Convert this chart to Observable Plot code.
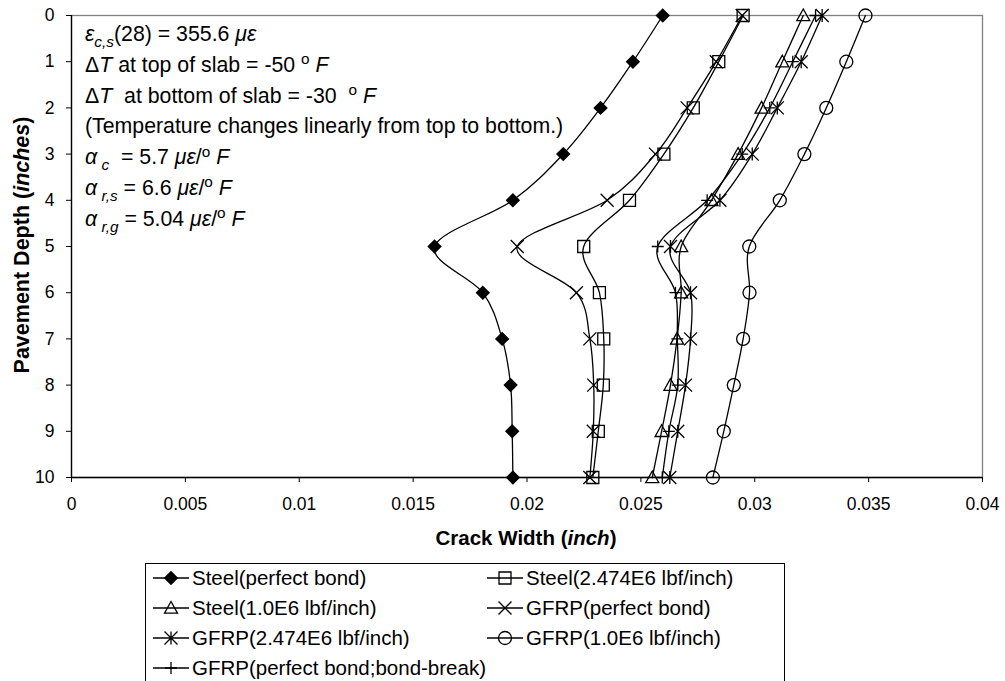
<!DOCTYPE html>
<html>
<head>
<meta charset="utf-8">
<script src="https://cdn.jsdelivr.net/npm/d3@7"></script>
<script src="https://cdn.jsdelivr.net/npm/@observablehq/plot@0.6"></script>
<style>
  body { margin: 0; background: #fff; }
  #wrap { position: relative; width: 1005px; height: 681px; overflow: hidden; font-family: "Liberation Sans", Arial, sans-serif; color: #000; }
  #chart { position: absolute; left: 0; top: 0; }
  #note { position: absolute; left: 85px; top: 19px; font-size: 21.3px; white-space: nowrap; }
  #note div { height: 30.8px; line-height: 30.8px; }
  .sb { font-size: 0.72em; position: relative; top: 0.38em; line-height: 0; }
  .sp { font-size: 0.72em; position: relative; top: -0.5em; line-height: 0; }
  .g { font-style: italic; }
  #xtitle { position: absolute; left: 526px; top: 538px; transform: translate(-50%, -50%); font-weight: bold; font-size: 20.5px; white-space: nowrap; }
  #ytitle { position: absolute; left: 22px; top: 245px; transform: translate(-50%, -50%) rotate(-90deg); font-weight: bold; font-size: 21.5px; white-space: nowrap; }
  #legend { position: absolute; left: 145px; top: 563px; width: 640px; height: 122px; border: 1px solid #000; box-sizing: border-box; }
  .entry { position: absolute; height: 30px; display: flex; align-items: center; font-size: 20.5px; white-space: nowrap; }
  .entry svg { margin-right: 3px; }
</style>
</head>
<body>
<div id="wrap">
  <div id="chart"></div>
  <div id="note">
    <div><span class="g">ε</span><span class="sb g">c,s</span>(28) = 355.6 <span class="g">με</span></div>
    <div>Δ<span class="g">T</span> at top of slab = -50 <span class="sp">o</span> <span class="g">F</span></div>
    <div>Δ<span class="g">T</span>&nbsp; at bottom of slab = -30&nbsp; <span class="sp">o</span> <span class="g">F</span></div>
    <div>(Temperature changes linearly from top to bottom.)</div>
    <div><span class="g">α</span><span class="sb g"> c</span>&nbsp; = 5.7 <span class="g">με</span>/<span class="sp">o</span> <span class="g">F</span></div>
    <div><span class="g">α</span><span class="sb g"> r,s</span> = 6.6 <span class="g">με</span>/<span class="sp">o</span> <span class="g">F</span></div>
    <div><span class="g">α</span><span class="sb g"> r,g</span> = 5.04 <span class="g">με</span>/<span class="sp">o</span> <span class="g">F</span></div>
  </div>
  <div id="xtitle">Crack Width (<i>inch</i>)</div>
  <div id="ytitle">Pavement Depth (<i>inches</i>)</div>
  <div id="legend"></div>
</div>
<script>
// Depth below the slab surface (inches)
const depth = [0, 1, 2, 3, 4, 5, 6, 7, 8, 9, 10];

// Crack width (inch) at each depth
const steelPerfectBond = [0.02596, 0.02465, 0.02323, 0.02159, 0.01938, 0.01594, 0.01806, 0.01891, 0.01928, 0.01935, 0.01938];
const steel2474E6      = [0.02949, 0.02842, 0.02730, 0.02601, 0.02450, 0.02249, 0.02318, 0.02337, 0.02335, 0.02313, 0.02289];
const steel1E6         = [0.03213, 0.03121, 0.03030, 0.02927, 0.02810, 0.02677, 0.02677, 0.02659, 0.02630, 0.02591, 0.02550];
const gfrpPerfectBond  = [0.02945, 0.02831, 0.02703, 0.02564, 0.02352, 0.01957, 0.02217, 0.02276, 0.02293, 0.02291, 0.02276];
const gfrp2474E6       = [0.03296, 0.03204, 0.03099, 0.02989, 0.02847, 0.02630, 0.02718, 0.02718, 0.02696, 0.02662, 0.02627];
const gfrp1E6          = [0.03486, 0.03402, 0.03314, 0.03218, 0.03110, 0.02976, 0.02977, 0.02949, 0.02908, 0.02864, 0.02816];
const gfrpBondBreak    = [0.03267, 0.03167, 0.03066, 0.02945, 0.02791, 0.02574, 0.02652, 0.02660, 0.02662, 0.02623, 0.02594];

const seriesNames = [
  "Steel(perfect bond)",
  "Steel(2.474E6 lbf/inch)",
  "Steel(1.0E6 lbf/inch)",
  "GFRP(perfect bond)",
  "GFRP(2.474E6 lbf/inch)",
  "GFRP(1.0E6 lbf/inch)",
  "GFRP(perfect bond;bond-break)"
];
const seriesValues = [steelPerfectBond, steel2474E6, steel1E6, gfrpPerfectBond, gfrp2474E6, gfrp1E6, gfrpBondBreak];

const xTicks = [0, 0.005, 0.01, 0.015, 0.02, 0.025, 0.03, 0.035, 0.04];
const yTicks = [0, 1, 2, 3, 4, 5, 6, 7, 8, 9, 10];

// Marker shapes (Plot passes size = r²π)
const shape = f => ({draw(ctx, size) { f(ctx, Math.sqrt(size / Math.PI)); }});
const symDiamond  = shape((c, r) => { c.moveTo(0, -r); c.lineTo(r, 0); c.lineTo(0, r); c.lineTo(-r, 0); c.closePath(); });
const symSquare   = shape((c, r) => { c.moveTo(-r, -r); c.lineTo(r, -r); c.lineTo(r, r); c.lineTo(-r, r); c.closePath(); });
const symTriangle = shape((c, r) => { c.moveTo(0, -r); c.lineTo(r, r * 0.8); c.lineTo(-r, r * 0.8); c.closePath(); });
const symTimes    = shape((c, r) => { c.moveTo(-r, -r); c.lineTo(r, r); c.moveTo(r, -r); c.lineTo(-r, r); });
const symStar     = shape((c, r) => { c.moveTo(-r, -r); c.lineTo(r, r); c.moveTo(r, -r); c.lineTo(-r, r); c.moveTo(0, -r); c.lineTo(0, r); });
const symPlus     = shape((c, r) => { c.moveTo(-r, 0); c.lineTo(r, 0); c.moveTo(0, -r); c.lineTo(0, r); });
const symCircle   = shape((c, r) => { c.moveTo(r, 0); c.arc(0, 0, r, 0, 2 * Math.PI); c.closePath(); });

const markerStyle = [
  {symbol: symDiamond,  r: 6.3, fill: "#000"},
  {symbol: symSquare,   r: 6,   fill: "none"},
  {symbol: symTriangle, r: 6.5, fill: "none"},
  {symbol: symTimes,    r: 6.5, fill: "none"},
  {symbol: symStar,     r: 6.5, fill: "none"},
  {symbol: symCircle,   r: 6.5, fill: "none"},
  {symbol: symPlus,     r: 6,   fill: "none"}
];

const rows = seriesNames.flatMap((name, s) =>
  depth.map((d, i) => ({name, depth: d, width: seriesValues[s][i]})));

const fmt = d => String(+d.toFixed(3));

const chart = Plot.plot({
  width: 1005,
  height: 550,
  marginTop: 15,
  marginLeft: 71,
  marginRight: 23,
  marginBottom: 73,
  style: {fontFamily: "'Liberation Sans', Arial, sans-serif", fontSize: "17.5px", color: "#000", background: "transparent"},
  x: {domain: [0, 0.04]},
  y: {domain: [0, 10], reverse: true},
  marks: [
    Plot.frame({stroke: "#808080", strokeWidth: 1.3}),
    Plot.ruleX([0], {stroke: "#000", strokeWidth: 1.3}),
    Plot.ruleY([10], {stroke: "#000", strokeWidth: 1.3}),
    Plot.axisX({ticks: xTicks, tickFormat: fmt, tickSize: 5, tickPadding: 15, label: null}),
    Plot.axisY({ticks: yTicks, tickSize: 5, tickPadding: 12, label: null}),
    ...seriesNames.map(name => Plot.line(rows.filter(d => d.name === name), {
      x: "width", y: "depth", curve: "cardinal", stroke: "#000", strokeWidth: 1.3
    })),
    ...seriesNames.map((name, s) => Plot.dot(rows.filter(d => d.name === name), {
      x: "width", y: "depth", symbol: markerStyle[s].symbol, r: markerStyle[s].r,
      fill: markerStyle[s].fill, stroke: "#000", strokeWidth: 1.3
    }))
  ]
});
document.getElementById("chart").appendChild(chart);

// Legend: two columns, row-major order
const legend = document.getElementById("legend");
const legendLeft = 145, legendTop = 563;
const colX = [153, 487];
const rowY = [578, 608, 638, 668];
seriesNames.forEach((name, s) => {
  const col = s % 2, row = Math.floor(s / 2);
  const entry = document.createElement("div");
  entry.className = "entry";
  entry.style.left = (colX[col] - legendLeft - 1) + "px";
  entry.style.top = (rowY[row] - 15 - legendTop - 1) + "px";
  const svg = d3.create("svg").attr("width", 36).attr("height", 20);
  svg.append("line").attr("x1", 0).attr("x2", 36).attr("y1", 10).attr("y2", 10)
    .attr("stroke", "#000").attr("stroke-width", 1.3);
  const p = d3.path();
  markerStyle[s].symbol.draw(p, markerStyle[s].r * markerStyle[s].r * Math.PI);
  svg.append("path").attr("d", p.toString()).attr("transform", "translate(18,10)")
    .attr("fill", markerStyle[s].fill).attr("stroke", "#000").attr("stroke-width", 1.3);
  entry.appendChild(svg.node());
  const label = document.createElement("span");
  label.textContent = name;
  entry.appendChild(label);
  legend.appendChild(entry);
});
</script>
</body>
</html>
